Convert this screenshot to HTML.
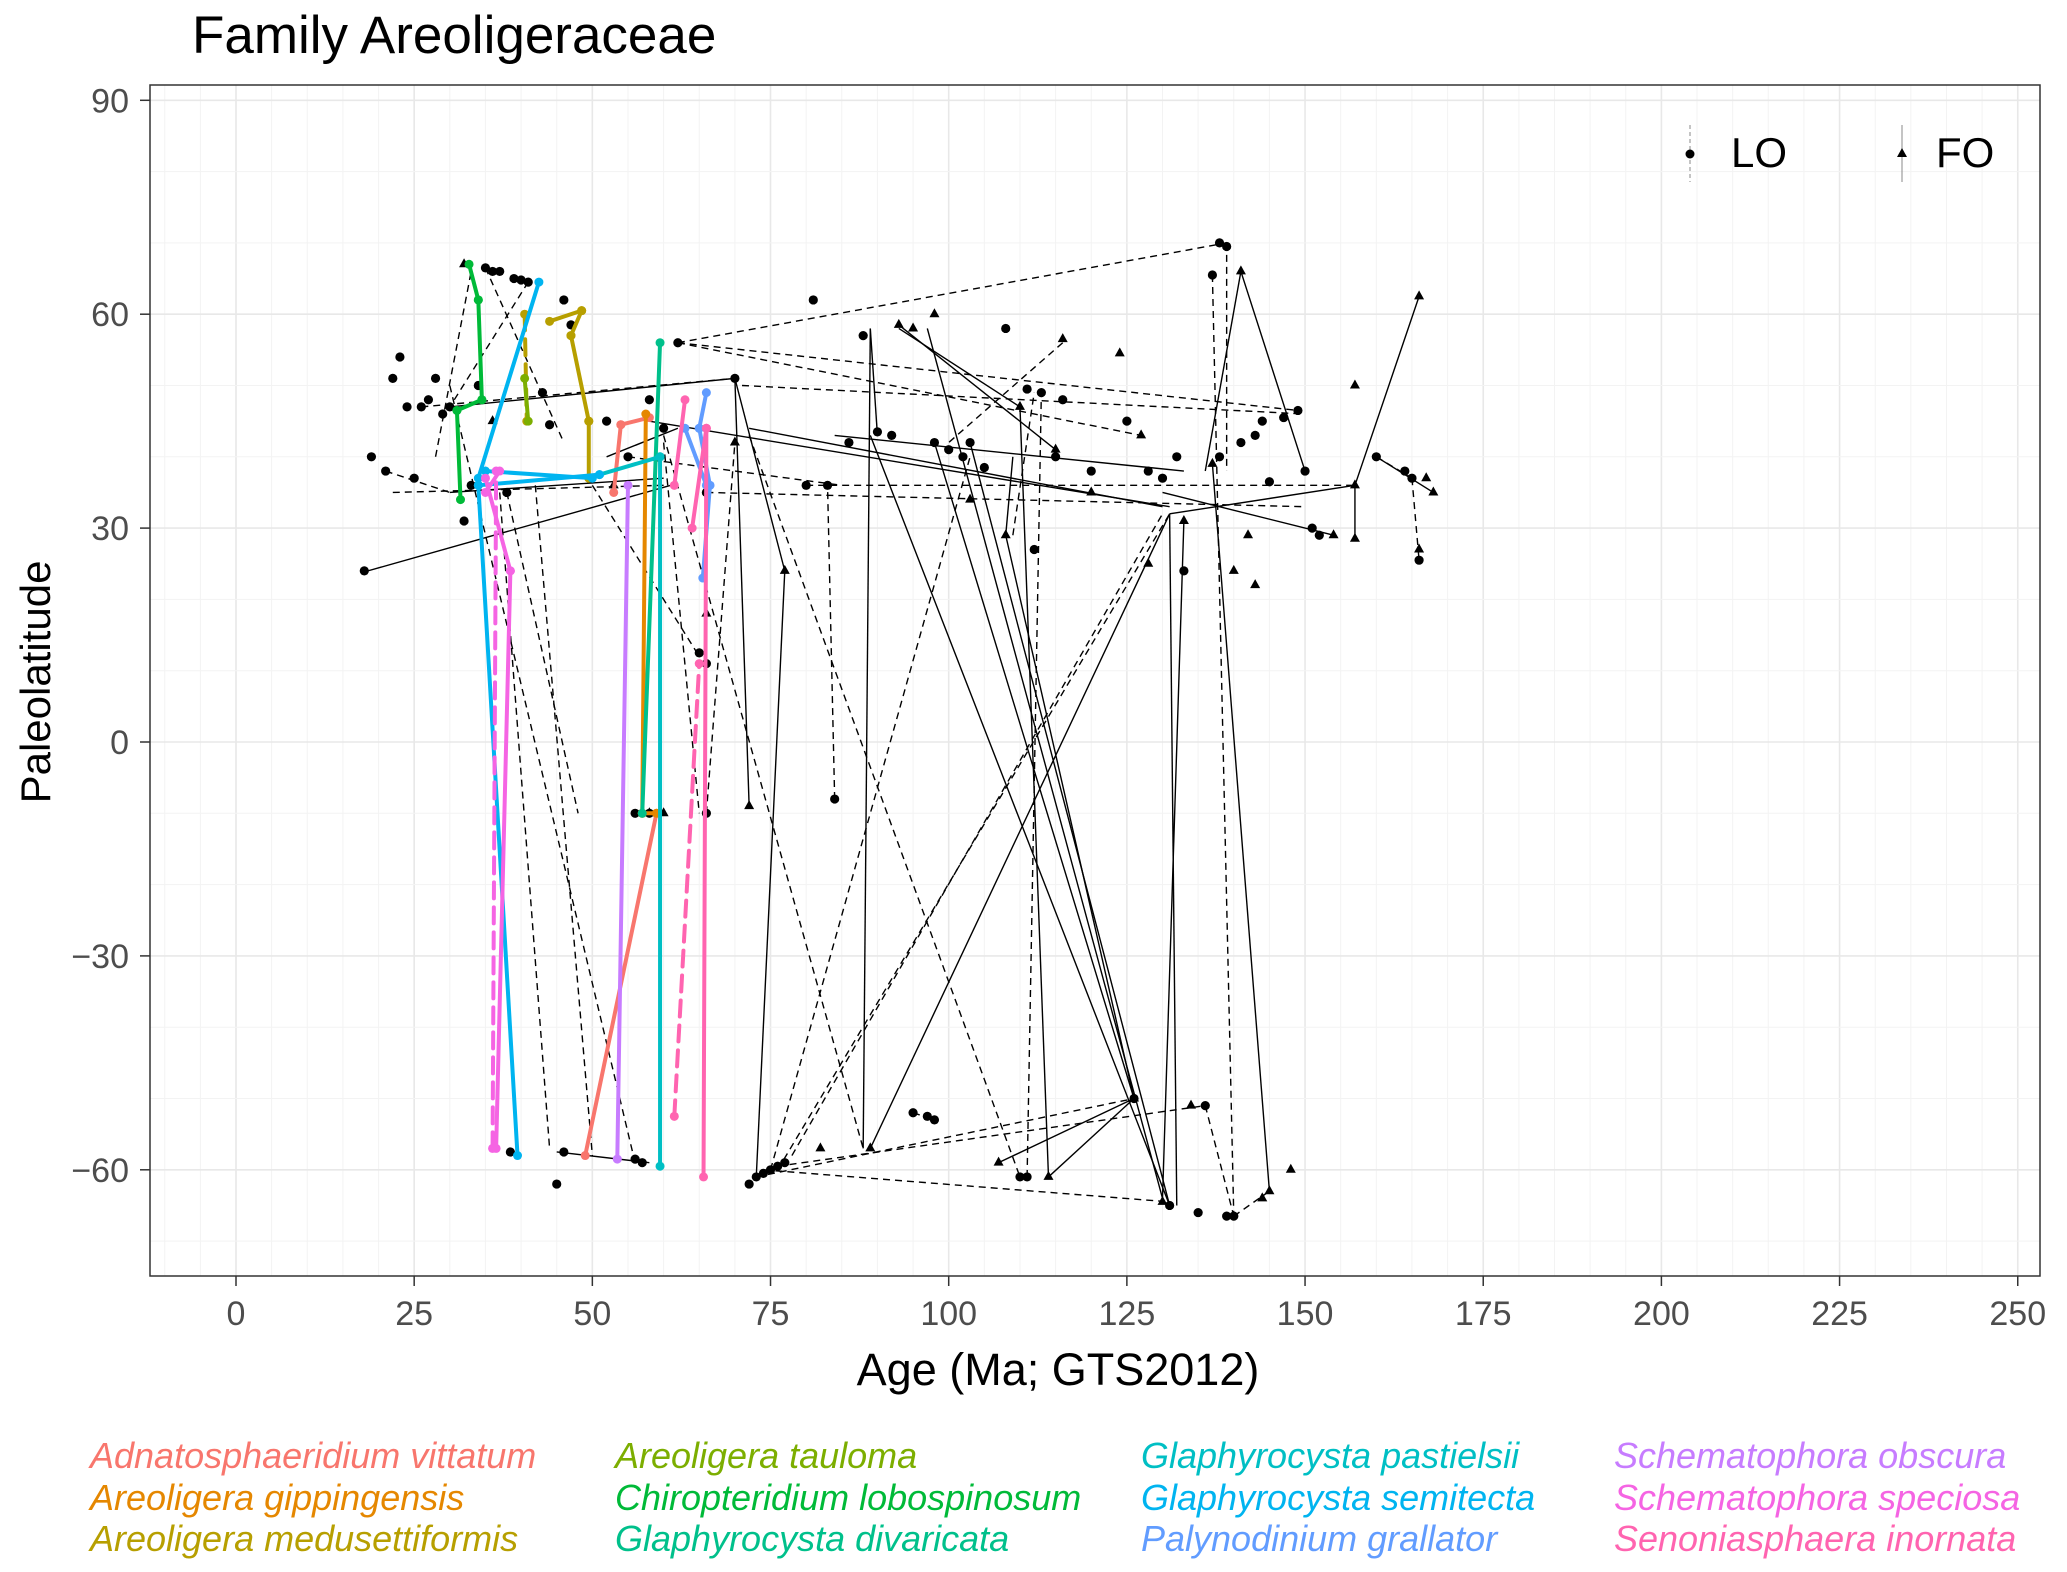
<!DOCTYPE html>
<html><head><meta charset="utf-8">
<style>
html,body{margin:0;padding:0;background:#fff;}
svg{display:block;font-family:"Liberation Sans",sans-serif;}
</style></head>
<body>
<svg id="chart" width="2067" height="1572" viewBox="0 0 2067 1572">
<text x="192" y="53" font-size="53" fill="#000">Family Areoligeraceae</text>
<g id="grid"></g>
<g id="black"></g>
<g id="colored"></g>
<rect x="150" y="85" width="1890" height="1191" fill="none" stroke="#333" stroke-width="1.5"/>
<g id="axes"></g>
<text x="1058" y="1385" font-size="45" text-anchor="middle" fill="#000">Age (Ma; GTS2012)</text>
<text transform="translate(50,682) rotate(-90)" font-size="42" text-anchor="middle" fill="#000">Paleolatitude</text>
<g>
<line x1="1690" y1="125" x2="1690" y2="182" stroke="#888" stroke-width="1" stroke-dasharray="4,3"/>
<circle cx="1690" cy="154" r="4.5" fill="#000"/>
<text x="1731" y="167" font-size="42">LO</text>
<line x1="1902" y1="125" x2="1902" y2="182" stroke="#888" stroke-width="1"/>
<polygon points="1902,148 1907,157 1897,157" fill="#000"/>
<text x="1936" y="167" font-size="42">FO</text>
</g>
<g id="legend" font-size="36" font-style="italic"></g>
</svg>
<script>
const xTicks=[0,25,50,75,100,125,150,175,200,225,250];
const yTicks=[-60,-30,0,30,60,90];
const speciesNames=["Adnatosphaeridium vittatum","Areoligera gippingensis","Areoligera medusettiformis","Areoligera tauloma","Chiropteridium lobospinosum","Glaphyrocysta divaricata","Glaphyrocysta pastielsii","Glaphyrocysta semitecta","Palynodinium grallator","Schematophora obscura","Schematophora speciosa","Senoniasphaera inornata"];
const speciesColors=["#F8766D","#E58700","#B79F00","#7CAE00","#00BA38","#00C08B","#00BFC4","#00B4F0","#619CFF","#C77CFF","#F564E3","#FF64B0"];
// segments per species: [age1,lat1,age2,lat2,dashed]
const speciesSegs=[
 [[49,-58,59,-10,0],[53,35,54,44.5,0],[54,44.5,58,45.5,0]],
 [[57.5,46,57,-10,0],[57,-10,59,-10,0]],
 [[48.5,60.5,47,57,0],[47,57,49.5,45,0],[49.5,45,49.5,37,0],[40.5,60,40.8,45,1],[44,59,48.5,60.5,0]],
 [[40.5,51,41,45,0]],
 [[32.7,67,34,62,0],[34,62,34.5,48,0],[34.5,48,31,46.5,0],[31,46.5,31.5,34,0]],
 [[59.5,56,57,-10,0]],
 [[59.5,40,59.5,-59.5,0],[51,37.5,59.5,40,0]],
 [[39.5,-58,34,36,0],[34,36,51,37.5,0],[34,37,42.5,64.5,0],[35,38,50,37,0]],
 [[66,49,65,44,0],[65,44,66.5,36,0],[66.5,36,65.5,23,0],[63,44,66,36,0]],
 [[53.5,-58.5,55,36,0]],
 [[36,-57,36.5,38,1],[36.5,-57,38.5,24,0],[38.5,24,35,37,0],[35,35,37,38,0]],
 [[61.5,-52.5,65,11,1],[65.6,-61,66,44,0],[66,44,64,30,0],[63,48,61.5,36,0]]
];
const loAges=[18,19,21,22,23,24,25,26,27,28,29,30,32,33,34,35,36,37,38,39,40,41,43,44,46,47,52,55,58,60,62,66,70,45,46,38.5,56,57,58,56,66,65,66,72,73,74,75,76,77,80,81,83,84,86,88,90,92,95,97,98,98,100,102,103,105,108,110,111,111,112,113,115,116,120,125,126,128,130,131,132,133,135,136,137,138,138,139,139,140,141,143,144,145,147,149,150,151,152,160,164,165,166];
const loLats=[24,40,38,51,54,47,37,47,48,51,46,47,31,36,50,66.5,66,66,35,65,64.8,64.5,49,44.5,62,58.5,45,40,48,44,56,35,51,-62,-57.5,-57.5,-58.5,-59,-10,-10,-10,12.5,11,-62,-61,-60.5,-60,-59.5,-59,36,62,36,-8,42,57,43.5,43,-52,-52.5,-53,42,41,40,42,38.5,58,-61,-61,49.5,27,49,40,48,38,45,-50,38,37,-65,40,24,-66,-51,65.5,40,70,69.5,-66.5,-66.5,42,43,45,36.5,45.5,46.5,38,30,29,40,38,37,25.5];
const foAges=[32,36,53,58,60,66,70,72,77,82,89,93,95,98,103,107,108,114,115,116,120,124,126,128,130,133,137,140,141,142,143,144,145,148,154,157,157,157,166,166,167,168,127,134,110];
const foLats=[67,45,36,-10,-10,18,42,-9,24,-57,-57,58.5,58,60,34,-59,29,-61,41,56.5,35,54.5,-50,25,-64.5,31,39,24,66,29,22,-64,-63,-60,29,50,36,28.5,27,62.5,37,35,43,-51,47];
const solidSegs=[[18.5,24,61,36],[70,51,72,-9],[70,51,77,24],[77,24,73,-61],[88,-57,89,58],[89,58,90,43],[93,58.5,115,41],[93,58,110,47],[89,-57,131,32],[89,43,131,-65],[98,42,126,-50],[108,29,109,40],[110,47,114,-61],[114,-61,126,-50],[126,-50,108,29],[133,31,130,-64],[131,32,132,-65],[145,-63,137,39],[136,38,141,66],[141,66,150,38],[157,36,166,62.5],[157,28.5,157,36],[131,32,157,36],[130,35,154,29],[70,51,30,47],[72,44,130,33],[58,45,131,33],[97,58,130,-64],[103,42,131,-65],[52,40,62,44],[45,-57.5,58,-59],[107,-59,126,-50],[160,40,168,35],[84,43,133,38],[30,35,60,37]];
const dashedSegs=[[62,56,139,70],[62,56,149,46.5],[62,56,127,43],[71,50,150,46],[26,47,70,51],[21,38,30,35],[22,35,60,36],[55,40,85,36],[80,36,157,36],[66,35,150,33],[139,70,139,38],[137,65.5,140,-66.5],[136,-51,140,-66.5],[140,-66.5,145,-63],[74,-60,131,-64.5],[73,-61,126,-50],[76,-59.5,136,-51],[75,-60,103,40],[76,-60,131,32],[78,-58,130,32],[66,-10,70,42],[84,-8,83,36],[60,43,88,-57],[72,43,110,-61],[111,-61,113,49],[109,29,112,49],[160,40,165,37],[165,37,166,25.5],[37,35,44,-57],[42,36,50,-58],[30,50,56,-59],[50,36,65,12],[60,42,65,-10],[35,66.5,46,42],[38,35,48,-10],[28,40,33,66],[95,-52,98,-53],[116,56,100,42],[41,64.5,30,47]];

const X0=236,XS=7.127,Y0=742,YS=7.13;
function sx(a){return X0+a*XS;}
function sy(l){return Y0-l*YS;}
const NS="http://www.w3.org/2000/svg";
function mk(tag,attrs,parent){const e=document.createElementNS(NS,tag);for(const k in attrs)e.setAttribute(k,attrs[k]);parent.appendChild(e);return e;}
const grid=document.getElementById('grid');
for(let a=-10;a<=250;a+=5){const x=sx(a);if(x<150||x>2040)continue;
 const g=mk('line',{x1:x,x2:x,y1:85,y2:1276,stroke:a%25===0?'#e8e8e8':'#f3f3f3','stroke-width':a%25===0?1.6:1},grid);
 
 }
for(let l=-70;l<=90;l+=10){const y=sy(l);
 const g=mk('line',{x1:150,x2:2040,y1:y,y2:y,stroke:l%30===0?'#e8e8e8':'#f3f3f3','stroke-width':l%30===0?1.6:1},grid);
 
 }
const axes=document.getElementById('axes');
xTicks.forEach(t=>{const x=sx(t);
 mk('line',{x1:x,x2:x,y1:1276,y2:1286,stroke:'#333','stroke-width':1.5},axes);
 const tx=mk('text',{x:x,y:1325,'font-size':34,'text-anchor':'middle',fill:'#4d4d4d'},axes);tx.textContent=t;
 
 });
yTicks.forEach(t=>{const y=sy(t);
 mk('line',{x1:140,x2:150,y1:y,y2:y,stroke:'#333','stroke-width':1.5},axes);
 const tx=mk('text',{x:129,y:y+12,'font-size':34,'text-anchor':'end',fill:'#4d4d4d'},axes);tx.textContent=t<0?'\u2212'+(-t):t;
 
 });
const black=document.getElementById('black');
solidSegs.forEach(s=>{const e=mk('line',{x1:sx(s[0]),y1:sy(s[1]),x2:sx(s[2]),y2:sy(s[3]),stroke:'#000','stroke-width':1.4},black);
 
 });
dashedSegs.forEach(s=>{const e=mk('line',{x1:sx(s[0]),y1:sy(s[1]),x2:sx(s[2]),y2:sy(s[3]),stroke:'#000','stroke-width':1.4,'stroke-dasharray':'7,5'},black);
 
 });
loAges.forEach((a,i)=>{const e=mk('circle',{cx:sx(a),cy:sy(loLats[i]),r:4.6,fill:'#000'},black);
 
 });
foAges.forEach((a,i)=>{const x=sx(a),y=sy(foLats[i]);
 const e=mk('polygon',{points:`${x},${y-6} ${x+5},${y+3} ${x-5},${y+3}`,fill:'#000'},black);
 
 });
const col=document.getElementById('colored');
speciesSegs.forEach((segs,i)=>{const c=speciesColors[i];
 segs.forEach(s=>{const attrs={x1:sx(s[0]),y1:sy(s[1]),x2:sx(s[2]),y2:sy(s[3]),stroke:c,'stroke-width':4,'stroke-linecap':'round'};
  if(s[4])attrs['stroke-dasharray']='16,9';
  const e=mk('line',attrs,col);
  
  
  [[s[0],s[1]],[s[2],s[3]]].forEach(p=>{const d=mk('circle',{cx:sx(p[0]),cy:sy(p[1]),r:4.5,fill:c},col);
   
   });
 });});
const leg=document.getElementById('legend');
const colX=[90,615,1141,1614],rowY=[1468,1510,1551];
speciesNames.forEach((n,i)=>{const t=mk('text',{x:colX[Math.floor(i/3)],y:rowY[i%3],fill:speciesColors[i]},leg);t.textContent=n;
 
 });
</script>
</body></html>
